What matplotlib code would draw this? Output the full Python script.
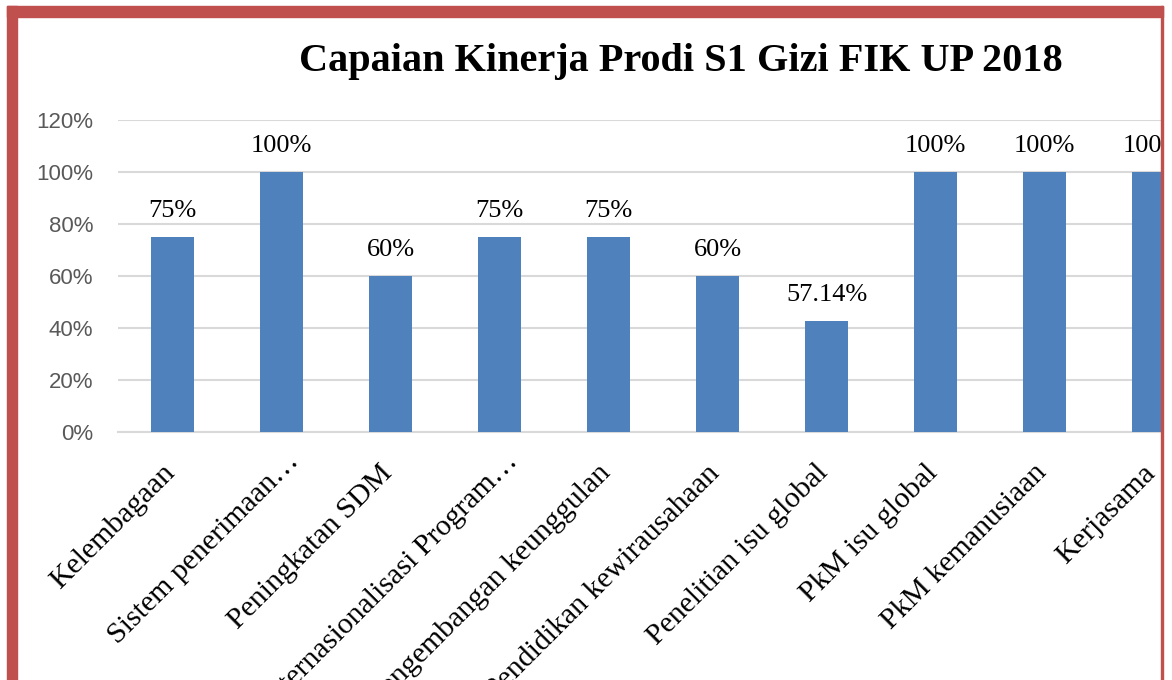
import matplotlib
matplotlib.use("Agg")
import matplotlib.pyplot as plt
from matplotlib.patches import Rectangle
from matplotlib.transforms import ScaledTranslation

# Data
categories = [
    "Kelembagaan",
    "Sistem penerimaan…",
    "Peningkatan SDM",
    "Internasionalisasi Program…",
    "Pengembangan keunggulan",
    "Pendidikan kewirausahaan",
    "Penelitian isu global",
    "PkM isu global",
    "PkM kemanusiaan",
    "Kerjasama",
]
values = [0.75, 1.00, 0.60, 0.75, 0.75, 0.60, 0.4286, 1.00, 1.00, 1.00]
value_labels = ["75%", "100%", "60%", "75%", "75%", "60%", "57.14%", "100%", "100%", "100%"]
y_ticks = [0, 0.2, 0.4, 0.6, 0.8, 1.0, 1.2]
y_tick_labels = ["0%", "20%", "40%", "60%", "80%", "100%", "120%"]
title = "Capaian Kinerja Prodi S1 Gizi FIK UP 2018"

W, H = 1172, 680
fig = plt.figure(figsize=(W / 100, H / 100), dpi=100)
fig.patch.set_facecolor("white")


def box(x0, y0, x1, y1):
    # pixel box (from top-left) -> figure fraction rect
    return [x0 / W, 1 - y1 / H, (x1 - x0) / W, (y1 - y0) / H]


# axes run past the right edge, the chart is cropped there
ax = fig.add_axes(box(118, 120, 1208, 432))
x = list(range(len(categories)))
ax.bar(x, values, width=0.4, color="#4F81BD", zorder=3)
ax.set_xlim(-0.5, len(categories) - 0.5)
ax.set_ylim(0, 1.2)

ax.set_yticks(y_ticks)
ax.set_yticklabels(y_tick_labels, fontsize=16, color="#595959", family="Liberation Sans")
ax.set_xticks(x)
ax.set_xticklabels([])
ax.tick_params(axis="y", length=0, pad=18)
ax.tick_params(axis="x", length=0)

# category labels drawn as rotated texts; truncated ones keep the word end on
# the tick and let the ellipsis run past it, like the original
base = ax.get_xaxis_transform() + ScaledTranslation(-2 / 100, -37 / 100, fig.dpi_scale_trans)
shift = ScaledTranslation(16 / 100, 11 / 100, fig.dpi_scale_trans)
for xi, cat in zip(x, categories):
    tr = base + shift if cat.endswith("…") else base
    ax.text(xi, 0, cat, transform=tr, fontsize=21.5, family="Liberation Serif",
            rotation=45, ha="right", va="center", rotation_mode="anchor", clip_on=False)

ax.grid(axis="y", color="#D9D9D9", linewidth=1.5, zorder=0)
for side in ["top", "right", "left"]:
    ax.spines[side].set_visible(False)
ax.spines["bottom"].set_color("#D9D9D9")
ax.spines["bottom"].set_linewidth(1.5)

for xi, v, lab in zip(x, values, value_labels):
    ax.annotate(lab, (xi, v), xytext=(0, 10.5), textcoords="offset points",
                ha="center", va="bottom", fontsize=19, family="Liberation Serif")

fig.text(681 / W, 1 - 62 / H, title, ha="center", va="center",
         fontsize=29, fontweight="bold", family="Liberation Serif")

# cropped page: red frame left/top, thin red line on the right, white beyond
red = "#C0504D"
fig.patches.append(Rectangle(box(1163, 0, W, H)[:2], *box(1163, 0, W, H)[2:],
                             transform=fig.transFigure, color="white", zorder=10))
fig.patches.append(Rectangle(box(7, 6, 1163, 17)[:2], *box(7, 6, 1163, 17)[2:],
                             transform=fig.transFigure, color=red, zorder=11))
fig.patches.append(Rectangle(box(7, 6, 17, H)[:2], *box(7, 6, 17, H)[2:],
                             transform=fig.transFigure, color=red, zorder=11))
fig.patches.append(Rectangle(box(1161, 6, 1163, H)[:2], *box(1161, 6, 1163, H)[2:],
                             transform=fig.transFigure, color=red, zorder=11))

fig.savefig("out.png", dpi=100)
